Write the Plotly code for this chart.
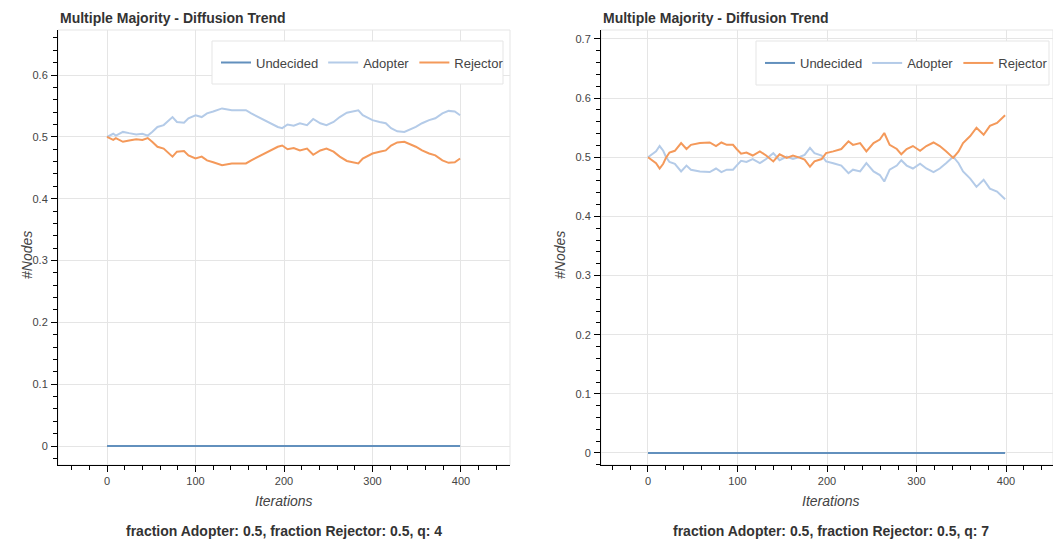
import plotly.graph_objects as go

# ---------------- data ----------------
iters_q4 = [0, 7, 10, 18, 25, 33, 40, 46, 51, 57, 64, 70, 74, 79, 87, 92, 100, 107, 113, 120,
            130, 141, 148, 157, 163, 174, 185, 193, 198, 204, 211, 218, 226, 233, 241, 248, 256, 263, 271, 278,
            284, 289, 300, 308, 315, 321, 328, 336, 341, 349, 356, 364, 371, 379, 386, 393, 399]
adopter_q4 = [0.500, 0.505, 0.502, 0.508, 0.506, 0.504, 0.505, 0.502, 0.508, 0.516,
              0.519, 0.527, 0.532, 0.524, 0.523, 0.530, 0.535, 0.532, 0.538, 0.541,
              0.546, 0.543, 0.543, 0.543, 0.538, 0.530, 0.522, 0.516, 0.514, 0.520,
              0.518, 0.522, 0.519, 0.529, 0.522, 0.519, 0.524, 0.532, 0.539, 0.541,
              0.543, 0.535, 0.527, 0.524, 0.522, 0.514, 0.509, 0.508, 0.511, 0.516,
              0.522, 0.527, 0.530, 0.538, 0.542, 0.541, 0.535]
rejector_q4 = [0.500, 0.495, 0.498, 0.492, 0.494, 0.496, 0.495, 0.498, 0.492, 0.484,
               0.481, 0.473, 0.468, 0.476, 0.477, 0.470, 0.465, 0.468, 0.462, 0.459,
               0.454, 0.457, 0.457, 0.457, 0.462, 0.470, 0.478, 0.484, 0.486, 0.480,
               0.482, 0.478, 0.481, 0.471, 0.478, 0.481, 0.476, 0.468, 0.461, 0.459,
               0.457, 0.465, 0.473, 0.476, 0.478, 0.486, 0.491, 0.492, 0.489, 0.484,
               0.478, 0.473, 0.470, 0.462, 0.458, 0.459, 0.465]
undecided_q4 = [0.0] * len(iters_q4)

iters_q7 = [0, 6, 9, 13, 17, 20, 24, 30, 37, 43, 48, 58, 69, 76, 82, 88, 95, 99, 104, 110,
            117, 125, 132, 140, 147, 155, 162, 170, 175, 181, 186, 194, 199, 207, 216, 224, 229, 237, 244, 252,
            259, 264, 270, 278, 283, 289, 296, 304, 311, 319, 326, 333, 341, 347, 352, 360, 367, 375, 382, 390,
            395, 399]
rejector_q7 = [0.500, 0.493, 0.490, 0.481, 0.489, 0.499, 0.508, 0.511, 0.524, 0.514,
               0.521, 0.524, 0.525, 0.519, 0.525, 0.521, 0.521, 0.514, 0.506, 0.508,
               0.503, 0.510, 0.503, 0.493, 0.505, 0.499, 0.503, 0.499, 0.496, 0.484,
               0.493, 0.497, 0.507, 0.510, 0.514, 0.527, 0.521, 0.524, 0.510, 0.524,
               0.530, 0.541, 0.521, 0.514, 0.505, 0.514, 0.519, 0.511, 0.519, 0.525,
               0.519, 0.510, 0.499, 0.510, 0.524, 0.536, 0.550, 0.538, 0.553, 0.558,
               0.565, 0.571]
adopter_q7 = [0.500, 0.507, 0.510, 0.519, 0.511, 0.501, 0.492, 0.489, 0.476, 0.486,
              0.479, 0.476, 0.475, 0.481, 0.475, 0.479, 0.479, 0.486, 0.494, 0.492,
              0.497, 0.490, 0.497, 0.507, 0.495, 0.501, 0.497, 0.501, 0.504, 0.516,
              0.507, 0.503, 0.493, 0.490, 0.486, 0.473, 0.479, 0.476, 0.490, 0.476,
              0.470, 0.459, 0.479, 0.486, 0.495, 0.486, 0.481, 0.489, 0.481, 0.475,
              0.481, 0.490, 0.501, 0.490, 0.476, 0.464, 0.450, 0.462, 0.447, 0.442,
              0.435, 0.429]
undecided_q7 = [0.0] * len(iters_q7)

series_names = ["Undecided", "Adopter", "Rejector"]
series_colors = ["#6290bd", "#b4cbe8", "#f4995a"]
title_text = "Multiple Majority - Diffusion Trend"
captions = ["fraction Adopter: 0.5, fraction Rejector: 0.5, q: 4",
            "fraction Adopter: 0.5, fraction Rejector: 0.5, q: 7"]
x_label = "Iterations"
y_label = "#Nodes"

# ---------------- figure ----------------
W, H = 1053, 545
FONT = "Liberation Sans, Arial, Helvetica, sans-serif"
GRID = "#e5e5e5"

def px(x):
    return x / W

def py(y):
    return 1 - y / H

fig = go.Figure()

panels = [
    dict(it=iters_q4, vals=[undecided_q4, adopter_q4, rejector_q4], xa="x", ya="y", legend="legend"),
    dict(it=iters_q7, vals=[undecided_q7, adopter_q7, rejector_q7], xa="x2", ya="y2", legend="legend2"),
]
for p in panels:
    for name, col, v in zip(series_names, series_colors, p["vals"]):
        fig.add_trace(go.Scatter(x=p["it"], y=v, mode="lines", name=name,
                                 line=dict(color=col, width=2),
                                 xaxis=p["xa"], yaxis=p["ya"], legend=p["legend"]))

common_axis = dict(
    showline=True, linecolor="black", linewidth=1,
    ticks="outside", ticklen=6, tickwidth=1, tickcolor="black",
    showgrid=True, gridcolor=GRID, gridwidth=1, zeroline=False,
    tickfont=dict(family=FONT, size=11, color="#444"),
    fixedrange=True,
)
minor_x = dict(dtick=20, ticks="outside", ticklen=4, tickcolor="black", showgrid=False)
minor_y = dict(dtick=0.02, ticks="outside", ticklen=4, tickcolor="black", showgrid=False)

legend_font = dict(family=FONT, size=13, color="#444")
fig.update_layout(
    width=W, height=H, margin=dict(l=0, r=0, t=0, b=0),
    paper_bgcolor="white", plot_bgcolor="white", showlegend=True,
    xaxis=dict(domain=[px(58), px(510)], range=[-55.4, 455.4], dtick=100,
               minor=minor_x, anchor="y", **common_axis),
    yaxis=dict(domain=[py(465), py(30)], range=[-0.0307, 0.6728], dtick=0.1,
               minor=minor_y, anchor="x", ticklabelstandoff=1, **common_axis),
    xaxis2=dict(domain=[px(601), 1.0], range=[-52.5, 452.5], dtick=100,
                minor=minor_x, anchor="y2", **common_axis),
    yaxis2=dict(domain=[py(465), py(30)], range=[-0.0203, 0.7152], dtick=0.1,
                minor=minor_y, anchor="x2", ticklabelstandoff=1, **common_axis),
    legend=dict(orientation="h", x=px(216), y=py(62.5), xanchor="left", yanchor="middle",
                bgcolor="rgba(0,0,0,0)", borderwidth=0, font=legend_font),
    legend2=dict(orientation="h", x=px(760), y=py(63), xanchor="left", yanchor="middle",
                 bgcolor="rgba(0,0,0,0)", borderwidth=0, font=legend_font),
)

# plot outlines (light frame) and legend boxes
for xr, yr in [("x domain", "y domain"), ("x2 domain", "y2 domain")]:
    fig.add_shape(type="rect", xref=xr, yref=yr, x0=0, x1=1, y0=0, y1=1,
                  line=dict(color=GRID, width=1), fillcolor="rgba(0,0,0,0)", layer="below")
for x0, x1, y0, y1 in [(212, 503, 41, 84), (756, 1049, 41, 85)]:
    fig.add_shape(type="rect", xref="paper", yref="paper", x0=px(x0), x1=px(x1), y0=py(y1), y1=py(y0),
                  line=dict(color=GRID, width=1), fillcolor="white", layer="above")

# texts
ann = []
for tx, cap, xc, ylx in [(58, captions[0], 284, 27), (601, captions[1], 831, 560)]:
    ann.append(dict(text=title_text, x=px(tx), y=py(17.5), xref="paper", yref="paper",
                    xanchor="left", yanchor="middle", showarrow=False,
                    font=dict(family=FONT, size=14, color="#333", weight="bold")))
    ann.append(dict(text=cap, x=px(xc), y=py(531), xref="paper", yref="paper",
                    xanchor="center", yanchor="middle", showarrow=False,
                    font=dict(family=FONT, size=14, color="#333", weight="bold")))
    ann.append(dict(text=x_label, x=px(xc), y=py(501), xref="paper", yref="paper",
                    xanchor="center", yanchor="middle", showarrow=False,
                    font=dict(family=FONT, size=14, color="#444", style="italic")))
    ann.append(dict(text=y_label, x=px(ylx), y=py(255), xref="paper", yref="paper",
                    xanchor="center", yanchor="middle", showarrow=False, textangle=-90,
                    font=dict(family=FONT, size=14, color="#444", style="italic")))
fig.update_layout(annotations=ann)

fig.write_html("out.html", config={"displayModeBar": False},
               post_script="document.body.style.margin='0px';document.body.style.overflow='hidden';")
